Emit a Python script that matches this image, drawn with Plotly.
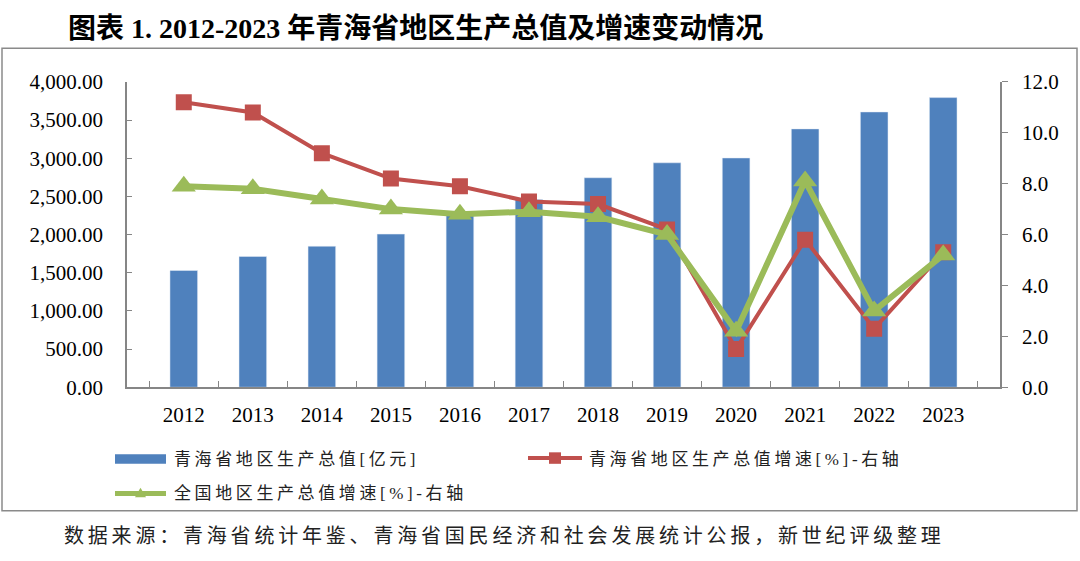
import plotly.graph_objects as go

years = ["2012", "2013", "2014", "2015", "2016", "2017", "2018", "2019", "2020", "2021", "2022", "2023"]
gdp_qh = [1529, 1713, 1847, 2006, 2258, 2459, 2744, 2940, 3003, 3384, 3606, 3794]
growth_qh = [11.2, 10.8, 9.2, 8.2, 7.9, 7.3, 7.2, 6.2, 1.5, 5.8, 2.3, 5.3]
growth_cn = [7.9, 7.8, 7.4, 7.0, 6.8, 6.9, 6.7, 6.0, 2.2, 8.1, 3.0, 5.2]

title_text = "图表 1. 2012-2023 年青海省地区生产总值及增速变动情况"
legend_names = ["青海省地区生产总值[亿元]", "青海省地区生产总值增速[%]-右轴", "全国地区生产总值增速[%]-右轴"]
source_text = "数据来源：青海省统计年鉴、青海省国民经济和社会发展统计公报，新世纪评级整理"

W, H = 1080, 561
BLUE, RED, GREEN = "#4F81BD", "#C0504D", "#9BBB59"
AX = "#868686"
SERIF = "Liberation Serif, Noto Sans CJK SC, serif"
CJK = "Liberation Serif, Noto Sans CJK SC, sans-serif"

def px(x):
    return x / W

def py(y):
    return 1 - y / H

fig = go.Figure()
fig.add_trace(go.Bar(x=years, y=gdp_qh, marker_color=BLUE, name=legend_names[0], yaxis="y"))
fig.add_trace(go.Scatter(x=years, y=growth_qh, mode="lines+markers", name=legend_names[1],
                         line=dict(color=RED, width=4),
                         marker=dict(symbol="square", size=16, color=RED), yaxis="y2"))
fig.add_trace(go.Scatter(x=years, y=growth_cn, mode="lines+markers", name=legend_names[2],
                         line=dict(color=GREEN, width=6),
                         marker=dict(symbol="triangle-up", size=21, color=GREEN), yaxis="y2"))

tickfont = dict(family=SERIF, size=21, color="#000")
fig.update_layout(
    width=W, height=H,
    margin=dict(l=0, r=0, t=0, b=0),
    paper_bgcolor="white", plot_bgcolor="white",
    showlegend=False,
    bargap=0.6,
    xaxis=dict(domain=[px(127), px(1000)], type="category", showline=True, linecolor=AX, linewidth=1.5,
               ticks="inside", tickson="boundaries", ticklen=6, tickcolor=AX, tickwidth=1.2,
               tickfont=tickfont, ticklabelstandoff=8, showgrid=False, zeroline=False),
    yaxis=dict(domain=[py(392), py(73)], range=[0, 4000], dtick=500, tickformat=",.2f",
               showline=True, linecolor=AX, linewidth=1.5, ticks="inside", ticklen=5,
               tickcolor=AX, tickwidth=1.2, tickfont=tickfont, ticklabelstandoff=18,
               showgrid=False, zeroline=False),
    yaxis2=dict(overlaying="y", side="right", anchor="x", range=[0, 12], dtick=2, tickformat=".1f",
                showline=True, linecolor=AX, linewidth=1.5, ticks="outside", ticklen=6,
                tickcolor=AX, tickwidth=1.2, tickfont=tickfont, ticklabelstandoff=10,
                showgrid=False, zeroline=False),
)

shapes = []
# outer frame
shapes.append(dict(type="rect", xref="paper", yref="paper", x0=px(2), x1=px(1077), y0=py(521), y1=py(38),
                   line=dict(color="#8a8a8a", width=1.5), fillcolor="rgba(0,0,0,0)", layer="below"))
# legend symbols
shapes.append(dict(type="rect", xref="paper", yref="paper", x0=px(115), x1=px(166), y0=py(472), y1=py(462),
                   line=dict(width=0), fillcolor=BLUE))
shapes.append(dict(type="line", xref="paper", yref="paper", x0=px(528), x1=px(582), y0=py(466), y1=py(466),
                   line=dict(color=RED, width=4)))
shapes.append(dict(type="rect", xref="paper", yref="paper", x0=px(549), x1=px(561), y0=py(472), y1=py(460),
                   line=dict(width=0), fillcolor=RED))
shapes.append(dict(type="line", xref="paper", yref="paper", x0=px(115), x1=px(166), y0=py(503), y1=py(503),
                   line=dict(color=GREEN, width=5)))
shapes.append(dict(type="path", xref="paper", yref="paper",
                   path=f"M {px(135)} {py(507)} L {px(146)} {py(507)} L {px(140.5)} {py(497)} Z",
                   line=dict(width=0), fillcolor=GREEN))
fig.update_layout(shapes=shapes)

def spaced(t, sp):
    return f'<span style="letter-spacing:{sp}px">{t}</span>'

ann = []
ann.append(dict(text="<b>" + title_text + "</b>", x=px(66), y=py(17), xref="paper", yref="paper",
                xanchor="left", yanchor="middle", showarrow=False,
                font=dict(family=SERIF, size=28, color="#000")))
ann.append(dict(text=spaced(legend_names[0], 3.6), x=px(172), y=py(467), xref="paper", yref="paper",
                xanchor="left", yanchor="middle", showarrow=False,
                font=dict(family=CJK, size=17, color="#222")))
ann.append(dict(text=spaced(legend_names[1], 3.6), x=px(587), y=py(467), xref="paper", yref="paper",
                xanchor="left", yanchor="middle", showarrow=False,
                font=dict(family=CJK, size=17, color="#222")))
ann.append(dict(text=spaced(legend_names[2], 3.6), x=px(172), y=py(503), xref="paper", yref="paper",
                xanchor="left", yanchor="middle", showarrow=False,
                font=dict(family=CJK, size=17, color="#222")))
ann.append(dict(text=spaced(source_text, 3.8), x=px(62), y=py(547), xref="paper", yref="paper",
                xanchor="left", yanchor="middle", showarrow=False,
                font=dict(family=CJK, size=20, color="#222")))
fig.update_layout(annotations=ann)

fig.write_html("out.html", config={"displayModeBar": False},
               post_script="document.body.style.margin='0px';document.body.style.overflow='hidden';")
